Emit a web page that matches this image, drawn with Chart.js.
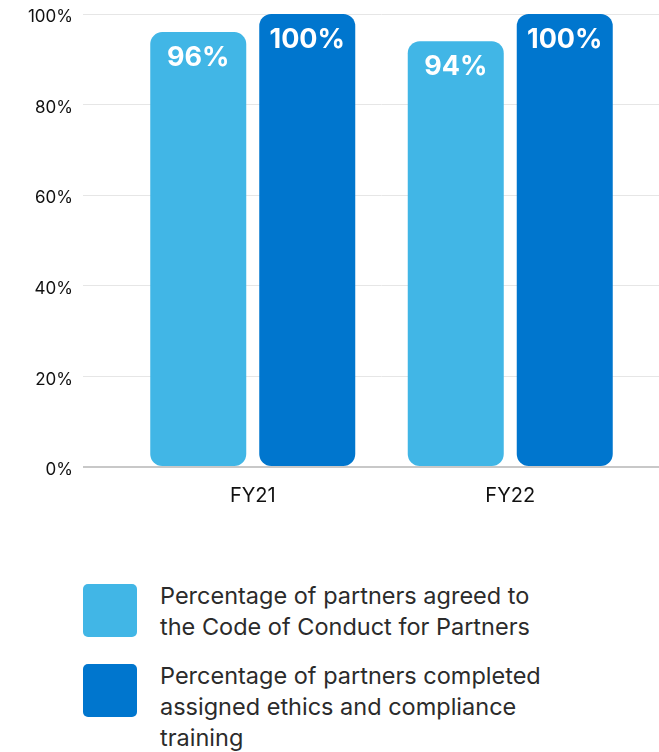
<!DOCTYPE html>
<html>
<head>
<meta charset="utf-8">
<script src="https://cdn.jsdelivr.net/npm/chart.js@4.4.0/dist/chart.umd.min.js"></script>
<style>
  body { margin: 0; background: #fff; font-family: Inter, "Liberation Sans", Arial, sans-serif; }
  #wrap { position: relative; width: 659px; height: 538px; }
  #legend { margin-top: 42px; }
  .item { display: flex; align-items: flex-start; margin-bottom: 18px; }
  .box { width: 54px; height: 53px; border-radius: 5px; margin-left: 83px; margin-top: 4px; flex: none; }
  .text { margin-left: 23px; width: 398px; font-size: 23.5px; line-height: 31px; color: #2b2b2b; }
</style>
</head>
<body>
<div id="wrap"><canvas id="partners-chart"></canvas></div>
<div id="legend"></div>
<script>
const years = ["FY21", "FY22"];
const agreedCode = [96, 94];
const completedTraining = [100, 100];
const seriesNames = [
  "Percentage of partners agreed to the Code of Conduct for Partners",
  "Percentage of partners completed assigned ethics and compliance training",
];
const seriesColors = ["#41b6e6", "#0076ce"];

Chart.defaults.font.family = "Inter";

const gridColor = (c) => (c.tick && c.tick.value === 0 ? "#c8c8c8" : "#e6e6e6");
const gridWidth = (c) => (c.tick && c.tick.value === 0 ? 2 : 1);

// white value text near the top of each bar
const barLabels = {
  id: "barLabels",
  afterDatasetsDraw(chart) {
    const ctx = chart.ctx;
    ctx.save();
    ctx.fillStyle = "#fff";
    ctx.font = "700 27px Inter";
    ctx.textAlign = "center";
    ctx.textBaseline = "middle";
    chart.data.datasets.forEach((ds, i) => {
      chart.getDatasetMeta(i).data.forEach((bar, j) => {
        ctx.fillText(ds.data[j] + "%", bar.x, bar.y + 26);
      });
    });
    ctx.restore();
  },
};

const ctx = document.getElementById("partners-chart").getContext("2d");

const myChart = new Chart(ctx, {
  type: "bar",
  data: {
    labels: years,
    datasets: [
      {
        label: seriesNames[0],
        data: agreedCode,
        backgroundColor: seriesColors[0],
      },
      {
        label: seriesNames[1],
        data: completedTraining,
        backgroundColor: seriesColors[1],
      },
    ],
  },
  options: {
    responsive: true,
    maintainAspectRatio: false,
    animation: false,
    categoryPercentage: 0.8466,
    barPercentage: 0.8807,
    layout: { padding: { top: 14, bottom: 13 } },
    datasets: {
      bar: { borderRadius: 12, borderSkipped: false },
    },
    scales: {
      x: {
        grid: { display: false, drawTicks: false },
        border: { display: false },
        ticks: { color: "#111", font: { size: 20 }, padding: 17 },
      },
      y: {
        min: 0,
        max: 100,
        ticks: {
          stepSize: 20,
          callback: (v) => v + "%",
          color: "#111",
          // small line height keeps the top label from pushing the plot down
          font: { size: 17, lineHeight: 0.2 },
          padding: 10,
          labelOffset: 3,
        },
        grid: { color: gridColor, lineWidth: gridWidth, tickLength: 41 },
        border: { display: false },
        afterFit: (axis) => {
          axis.width = 124;
        },
      },
      y2: {
        position: "right",
        min: 0,
        max: 100,
        ticks: { stepSize: 20, display: false },
        grid: { drawOnChartArea: false, color: gridColor, lineWidth: gridWidth, tickLength: 20 },
        border: { display: false },
        afterFit: (axis) => {
          axis.width = 20;
        },
      },
    },
    plugins: {
      legend: { display: false },
      tooltip: { enabled: false },
    },
  },
  plugins: [barLabels],
});

const legend = document.getElementById("legend");
myChart.data.datasets.forEach((ds) => {
  const item = document.createElement("div");
  item.className = "item";
  const box = document.createElement("div");
  box.className = "box";
  box.style.background = ds.backgroundColor;
  const text = document.createElement("div");
  text.className = "text";
  text.textContent = ds.label;
  item.appendChild(box);
  item.appendChild(text);
  legend.appendChild(item);
});
</script>
</body>
</html>
